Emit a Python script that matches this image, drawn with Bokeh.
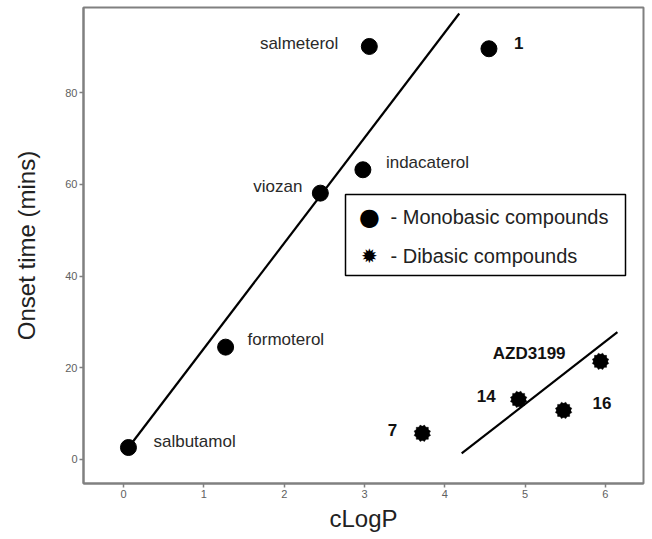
from math import pi
from bokeh.plotting import figure
from bokeh.models import FixedTicker, BoxAnnotation, Label
from bokeh.core.properties import value
from bokeh.embed import file_html
from bokeh.resources import INLINE

# ---------------- data ----------------
mono_names = ["salbutamol", "formoterol", "viozan", "indacaterol", "salmeterol", "1"]
mono_clogp = [0.06, 1.27, 2.45, 2.98, 3.06, 4.55]
mono_onset = [2.6, 24.5, 58.1, 63.2, 90.1, 89.6]

di_names = ["7", "14", "16", "AZD3199"]
di_clogp = [3.72, 4.92, 5.48, 5.94]
di_onset = [5.7, 13.1, 10.7, 21.4]

mono_fit_x = [0.06, 4.18]
mono_fit_y = [2.6, 97.3]
di_fit_x = [4.21, 6.15]
di_fit_y = [1.3, 27.8]

x_ticks = [0, 1, 2, 3, 4, 5, 6]
y_ticks = [0, 20, 40, 60, 80]

legend_labels = ["- Monobasic compounds", "- Dibasic compounds"]
legend_symbols = ["\u25CF", "\u2739"]

# ---------------- label styling (screen offsets) ----------------
# name -> (align, dx, dy, bold)
LABEL_STYLE = {
    "salbutamol": ("left", 25, -6, False),
    "formoterol": ("left", 22, -8, False),
    "viozan": ("right", -18, -7, False),
    "indacaterol": ("left", 23, -7, False),
    "salmeterol": ("right", -31, -3, False),
    "1": ("left", 25, -6, True),
    "7": ("right", -25, -3, True),
    "14": ("right", -23, -3, True),
    "16": ("left", 29, -7, True),
    "AZD3199": ("right", -35, -8, True),
}

FONT = "Liberation Sans"

p = figure(width=650, height=538, x_range=(-0.5, 6.475), y_range=(-5.25, 98.6),
           output_backend="svg", toolbar_location=None,
           min_border_left=83, min_border_right=7, min_border_top=7, min_border_bottom=55)

p.xgrid.visible = False
p.ygrid.visible = False
p.background_fill_color = "white"
p.border_fill_color = "white"
p.outline_line_color = "#808080"
p.outline_line_width = 2

for ax in (p.xaxis[0], p.yaxis[0]):
    ax.axis_line_color = "#808080"
    ax.axis_line_width = 2
    ax.major_tick_line_color = "#808080"
    ax.major_tick_line_width = 1.5
    ax.major_tick_out = 4
    ax.major_tick_in = 0
    ax.minor_tick_line_color = None
    ax.major_label_text_font = FONT
    ax.major_label_text_font_size = "11px"
    ax.major_label_text_color = "#606060"
    ax.major_label_standoff = 2
    ax.axis_label_text_font = FONT
    ax.axis_label_text_font_size = "24px"
    ax.axis_label_text_font_style = "normal"
    ax.axis_label_text_color = "#222222"

p.xaxis.ticker = FixedTicker(ticks=x_ticks)
p.yaxis.ticker = FixedTicker(ticks=y_ticks)
p.xaxis.axis_label = "cLogP"
p.yaxis.axis_label = "Onset time (mins)"
p.xaxis.axis_label_standoff = 4
p.yaxis.axis_label_standoff = 22

# fit lines
p.line(mono_fit_x, mono_fit_y, line_color="black", line_width=2.2)
p.line(di_fit_x, di_fit_y, line_color="black", line_width=2.2)

# markers
p.scatter(mono_clogp, mono_onset, marker="circle", size=16,
          fill_color="black", line_color="black")
for a in (0, pi / 6, pi / 3):
    p.scatter(di_clogp, di_onset, marker="square", size=12, angle=a,
              fill_color="black", line_color="black", line_width=0.5)

# point labels
for names, xs, ys in ((mono_names, mono_clogp, mono_onset), (di_names, di_clogp, di_onset)):
    for n, x, y in zip(names, xs, ys):
        align, dx, dy, bold = LABEL_STYLE[n]
        p.text(x=[x], y=[y], text=[n], x_offset=dx, y_offset=dy,
               text_align=align, text_baseline="middle",
               text_font=value(FONT), text_font_size="17px",
               text_font_style="bold" if bold else "normal",
               text_color="#111111" if bold else "#2a2a2a")

# legend box (screen units relative to the plot frame)
p.add_layout(BoxAnnotation(left=262, right=542, bottom=208, top=289,
                           left_units="screen", right_units="screen",
                           bottom_units="screen", top_units="screen",
                           fill_color="white", fill_alpha=1.0,
                           line_color="black", line_width=1.5, line_alpha=1.0))
rows_y = [267, 228]
sym_sizes = ["24px", "20px"]
for lab, sym, ry, ss in zip(legend_labels, legend_symbols, rows_y, sym_sizes):
    p.add_layout(Label(x=286, y=ry, x_units="screen", y_units="screen", text=sym,
                       text_align="center", text_baseline="middle",
                       text_font="DejaVu Sans", text_font_size=ss, text_color="black"))
    p.add_layout(Label(x=307, y=ry, x_units="screen", y_units="screen", text=lab,
                       text_align="left", text_baseline="middle",
                       text_font=FONT, text_font_size="20px", text_color="#222222"))

open("out.html", "w").write(file_html(p, INLINE))
